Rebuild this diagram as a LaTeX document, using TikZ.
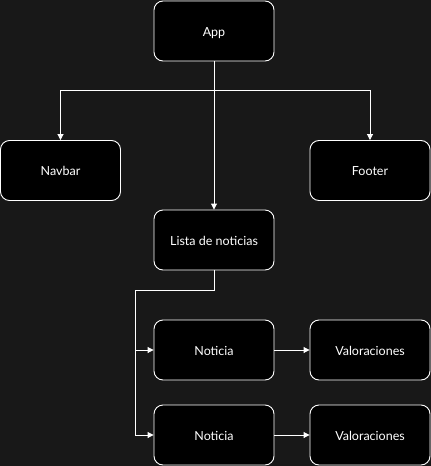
\documentclass[tikz,border=0pt]{standalone}
\usepackage{fontspec}
\setmainfont{Lato}
\usetikzlibrary{arrows.meta}
\definecolor{bg}{RGB}{24,24,24}
\tikzset{
  box/.style={draw=white, fill=black, line width=0.9pt, rounded corners=9pt,
    minimum width=120pt, minimum height=60pt, inner sep=0pt, text=white,
    font=\fontsize{12.5}{14}\selectfont, text depth=0pt, yshift=0pt},
  lbl/.style={yshift=-1.5pt},
  conn/.style={draw=white, line width=0.9pt, -{Triangle[length=6pt,width=6pt]}}
}
\begin{document}
\begin{tikzpicture}[x=1pt,y=-1pt]
\fill[bg] (0,0) rectangle (431,466);
\useasboundingbox (0,0) rectangle (431,466);
\node[box] (app) at (214,31) {\raisebox{-1.5pt}{App}};
\node[box] (nav) at (60.5,170.5) {\raisebox{-1.5pt}{Navbar}};
\node[box] (foot) at (370,170.5) {\raisebox{-1.5pt}{Footer}};
\node[box] (lista) at (214,240) {\raisebox{-1.5pt}{Lista de noticias}};
\node[box] (not1) at (214,350) {\raisebox{-1.5pt}{Noticia}};
\node[box] (val1) at (370,350) {\raisebox{-1.5pt}{Valoraciones}};
\node[box] (not2) at (214,435) {\raisebox{-1.5pt}{Noticia}};
\node[box] (val2) at (370,435) {\raisebox{-1.5pt}{Valoraciones}};
\coordinate (j1) at (214,90);
\coordinate (j2) at (135,290);
\draw[conn] (app) -- (lista);
\draw[conn] (app.south) -- (j1) -| (nav.north);
\draw[conn] (app.south) -- (j1) -| (foot.north);
\draw[conn] (lista.south) |- (j2) |- (not1.west);
\draw[conn] (lista.south) |- (j2) |- (not2.west);
\draw[conn] (not1) -- (val1);
\draw[conn] (not2) -- (val2);
\end{tikzpicture}
\end{document}
